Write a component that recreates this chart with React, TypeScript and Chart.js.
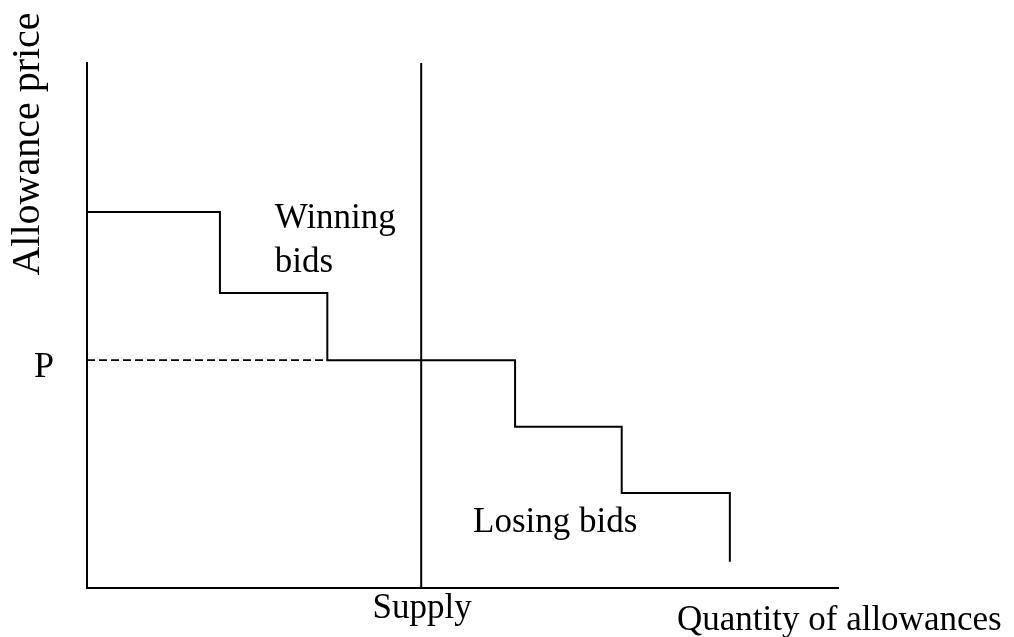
import React, { useEffect, useRef } from "react";
import { Chart, registerables } from "chart.js";

Chart.register(...registerables);

// Bid schedule (step demand curve): quantity breakpoints and bid prices
const bidQuantities = [0, 1.77, 3.2, 5.7, 7.12, 8.56];
const bidPrices = [7.16, 5.62, 4.34, 3.07, 1.81, 0.5];
const clearingPrice = 4.34;
const supplyQuantity = 4.45;
const axisMax = 10;

const priceLabel = "P";
const supplyLabel = "Supply";
const xAxisTitle = "Quantity of allowances";
const yAxisTitle = "Allowance price";
const winningLabel = ["Winning", "bids"];
const losingLabel = "Losing bids";

export default function App() {
  const ref = useRef<HTMLCanvasElement>(null);

  useEffect(() => {
    if (!ref.current) return;
    // each bid: price held from its quantity to the next breakpoint
    const stepData = bidQuantities.map((q, i) => ({ x: q, y: bidPrices[i] }));

    const textPlugin = {
      id: "labels",
      afterDraw(chart: any) {
        const ctx = chart.ctx;
        const xs = chart.scales.x;
        const ys = chart.scales.y;
        const area = chart.chartArea;
        ctx.save();
        ctx.fillStyle = "#000";
        ctx.textBaseline = "alphabetic";

        // P label
        ctx.textAlign = "left";
        ctx.font = '36px "Liberation Serif"';
        ctx.fillText(priceLabel, 34, ys.getPixelForValue(clearingPrice) + 17);

        ctx.font = '35px "Liberation Serif"';
        // Supply label
        ctx.textAlign = "center";
        ctx.fillText(supplyLabel, xs.getPixelForValue(supplyQuantity) + 1, area.bottom + 30);

        // x-axis title
        ctx.textAlign = "left";
        ctx.fillText(xAxisTitle, 677, area.bottom + 42);

        // Winning bids
        ctx.fillText(winningLabel[0], xs.getPixelForValue(2.5), ys.getPixelForValue(6.86));
        ctx.fillText(winningLabel[1], xs.getPixelForValue(2.5), ys.getPixelForValue(6.02));

        // Losing bids
        ctx.fillText(losingLabel, xs.getPixelForValue(5.14), ys.getPixelForValue(1.07));

        // y-axis title rotated
        ctx.save();
        ctx.font = '40px "Liberation Serif"';
        ctx.translate(39, 144);
        ctx.rotate(-Math.PI / 2);
        ctx.textAlign = "center";
        ctx.fillText(yAxisTitle, 0, 0);
        ctx.restore();

        ctx.restore();
      },
    };

    const chart = new Chart(ref.current, {
      type: "scatter",
      data: {
        datasets: [
          {
            label: "Bids",
            data: stepData,
            showLine: true,
            stepped: "before",
            borderColor: "#000",
            borderWidth: 2,
            pointRadius: 0,
            fill: false,
          },
          {
            label: "Price",
            data: [
              { x: 0, y: clearingPrice },
              { x: bidQuantities[2], y: clearingPrice },
            ],
            showLine: true,
            borderColor: "#000",
            borderWidth: 1.6,
            borderDash: [8, 4],
            pointRadius: 0,
          },
          {
            label: "Supply",
            data: [
              { x: supplyQuantity, y: 0 },
              { x: supplyQuantity, y: axisMax },
            ],
            showLine: true,
            borderColor: "#000",
            borderWidth: 2,
            pointRadius: 0,
          },
        ],
      },
      options: {
        animation: false,
        responsive: true,
        maintainAspectRatio: false,
        layout: { padding: { left: 87, top: 63, right: 176, bottom: 49 } },
        plugins: { legend: { display: false }, tooltip: { enabled: false } },
        scales: {
          x: {
            type: "linear",
            min: 0,
            max: axisMax,
            grid: { display: false, drawTicks: false },
            ticks: { display: false },
            border: { display: true, color: "#000", width: 2 },
          },
          y: {
            type: "linear",
            min: 0,
            max: axisMax,
            grid: { display: false, drawTicks: false },
            ticks: { display: false },
            border: { display: true, color: "#000", width: 2 },
          },
        },
      },
      plugins: [textPlugin],
    });
    return () => chart.destroy();
  }, []);

  return (
    <div style={{ position: "fixed", left: 0, top: 0, width: 1014, height: 637, background: "#fff" }}>
      <canvas ref={ref} />
    </div>
  );
}
